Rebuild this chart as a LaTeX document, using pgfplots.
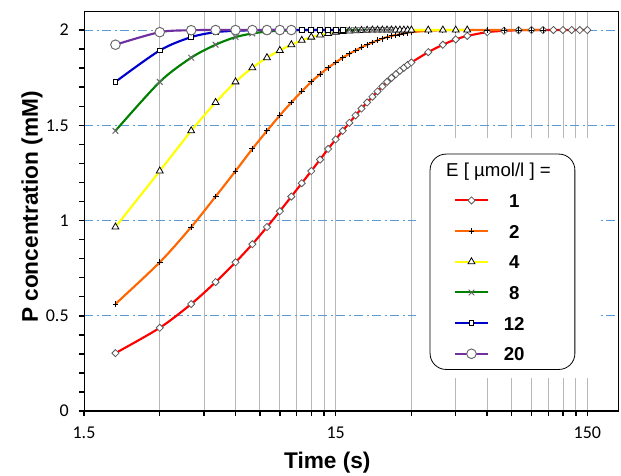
\documentclass[border=0pt]{standalone}
\usepackage{fontspec}
\setmainfont{Liberation Sans}
\newfontfamily\tickfont{Carlito}
\usepackage{pgfplots}
\usepackage{pgfplotstable}
\pgfplotsset{compat=1.18}
\usetikzlibrary{plotmarks}

\definecolor{c1}{RGB}{255,0,0}
\definecolor{c2}{RGB}{255,102,0}
\definecolor{c4}{RGB}{255,255,0}
\definecolor{c8}{RGB}{0,128,0}
\definecolor{c12}{RGB}{0,0,204}
\definecolor{c20}{RGB}{112,48,160}
\definecolor{gridblue}{RGB}{91,155,213}

% P concentration (mM) vs time (s), one table per enzyme concentration
\pgfplotstableread{
t P
2 0.304
3 0.437
4 0.562
5 0.677
6 0.781
7 0.876
8 0.966
9 1.049
10 1.126
11 1.196
12 1.260
13 1.320
14 1.376
15 1.426
16 1.471
17 1.513
18 1.552
19 1.588
20 1.620
21 1.650
22 1.678
23 1.704
24 1.728
25 1.749
26 1.768
27 1.786
28 1.802
29 1.817
30 1.830
35 1.884
40 1.923
45 1.951
50 1.969
60 1.989
70 1.996
80 1.999
90 2.000
100 2.000
110 2.000
120 2.000
130 2.000
140 2.000
150 2.000
}\eone

\pgfplotstableread{
t P
2 0.562
3 0.781
4 0.966
5 1.126
6 1.260
7 1.376
8 1.471
9 1.552
10 1.620
11 1.678
12 1.728
13 1.768
14 1.802
15 1.830
16 1.855
17 1.875
18 1.893
19 1.909
20 1.923
21 1.935
22 1.946
23 1.955
24 1.963
25 1.969
26 1.974
27 1.978
28 1.982
29 1.986
30 1.989
35 1.996
40 1.999
45 2.000
50 2.000
60 2.000
70 2.000
80 2.000
90 2.000
100 2.000
}\etwo

\pgfplotstableread{
t P
2 0.966
3 1.260
4 1.471
5 1.620
6 1.728
7 1.802
8 1.855
9 1.893
10 1.923
11 1.946
12 1.963
13 1.974
14 1.982
15 1.989
16 1.992
17 1.995
18 1.996
19 1.998
20 1.999
21 2.000
22 2.000
23 2.000
24 2.000
25 2.000
26 2.000
27 2.000
28 2.000
29 2.000
30 2.000
35 2.000
40 2.000
45 2.000
50 2.000
}\efour

\pgfplotstableread{
t P
2 1.471
3 1.728
4 1.855
5 1.923
6 1.963
7 1.982
8 1.992
9 1.996
10 1.999
11 2.000
12 2.000
13 2.000
14 2.000
15 2.000
16 2.000
17 2.000
18 2.000
19 2.000
20 2.000
21 2.000
22 2.000
23 2.000
24 2.000
25 2.000
}\eeight

\pgfplotstableread{
t P
2 1.728
3 1.893
4 1.963
5 1.989
6 1.996
7 1.999
8 2.000
9 2.000
10 2.000
11 2.000
12 2.000
13 2.000
14 2.000
15 2.000
16 2.000
}\etwelve

\pgfplotstableread{
t P
2 1.923
3 1.989
4 1.999
5 2.000
6 2.000
7 2.000
8 2.000
9 2.000
10 2.000
}\etwenty

\tikzset{
  cline/.style={smooth, line width=1.6pt},
}
\newcommand\lgd[1]{\makebox[42.5pt][l]{\makebox[33.5pt][c]{\bfseries #1}}}

\begin{document}
\begin{tikzpicture}
\useasboundingbox (-63pt,-48pt) rectangle (402.7pt,308.25pt);
\begin{axis}[
    at={(0,0)}, anchor=south west,
    scale only axis, width=401pt, height=300pt,
    xmode=log, xmin=1.5, xmax=200, ymin=0, ymax=2.1,
    xtick={1.5,15,150}, xticklabels={1.5,15,150},
    minor xtick={3,4.5,6,7.5,9,10.5,12,13.5,30,45,60,75,90,105,120,135},
    ytick={0,0.5,1,1.5,2}, yticklabels={0,0.5,1,1.5,2},
    minor y tick num=4,
    tick pos=left, tick align=outside,
    major tick length=4pt, minor tick length=3.5pt,
    tick style={black, line width=1.1pt},
    /pgf/number format/assume math mode=true,
    tick label style={font=\tickfont\fontsize{13.5}{15}\selectfont},
    xticklabel style={yshift=-4.5pt},
    yticklabel style={xshift=-4pt},
    axis line style={black, line width=0.6pt},
    xmajorgrids, xminorgrids, ymajorgrids,
    major x grid style={black!28, line width=0.6pt},
    minor x grid style={black!28, line width=0.6pt},
    major y grid style={gridblue, line width=0.7pt, dash pattern=on 7pt off 2.5pt on 1.5pt off 2.5pt},
    xlabel={Time (s)},
    xlabel style={font=\bfseries\fontsize{17}{19}\selectfont,
        at={(axis description cs:0.455,0)}, anchor=center, yshift=-39pt},
    legend style={at={(0.918,0.104)}, anchor=south east, draw=black, line width=0.6pt,
        rounded corners=12pt, fill=white, inner xsep=17.75pt, inner ysep=3pt, outer sep=0pt,
        row sep=5.5pt, column sep=0pt, font=\fontsize{14}{16}\selectfont,
        nodes={inner sep=2pt, text height=12pt, text depth=1.5pt}},
    legend cell align=left,
    legend image code/.code={%
        \draw[sharp corners, mark repeat=2, mark phase=2, #1]
            plot coordinates {(0pt,0pt) (12.5pt,0pt) (25pt,0pt)};},
]
\addlegendimage{empty legend}
\addlegendentry{\makebox[42.5pt][l]{\hspace*{-34.25pt}E [ µmol/l ] =}}

\addplot[cline, c1, mark=square*, mark size=1.9pt,
    mark options={solid, rotate=45, draw=black!65, fill=white, line width=0.6pt}] table[x=t, y=P] {\eone};
\addlegendentry{\lgd{1}}

\addplot[cline, c2, mark=+, mark size=2.2pt,
    mark options={solid, draw=black, line width=0.7pt}] table[x=t, y=P] {\etwo};
\addlegendentry{\lgd{2}}

\addplot[cline, c4, mark=triangle*, mark size=3pt,
    mark options={solid, draw=black, fill=white, line width=0.6pt}] table[x=t, y=P] {\efour};
\addlegendentry{\lgd{4}}

\addplot[cline, c8, mark=x, mark size=3pt,
    mark options={solid, draw=black!60, line width=0.7pt}] table[x=t, y=P] {\eeight};
\addlegendentry{\lgd{8}}

\addplot[cline, c12, mark=square*, mark size=1.8pt,
    mark options={solid, draw=black, fill=white, line width=0.6pt}] table[x=t, y=P] {\etwelve};
\addlegendentry{\lgd{12}}

\addplot[cline, c20, mark=*, mark size=3.6pt,
    mark options={solid, draw=black!60, fill=white, line width=0.7pt}] table[x=t, y=P] {\etwenty};
\addlegendentry{\lgd{20}}

% white area round the legend, as in the original
\fill[white] (rel axis cs:0.621,0.0825) rectangle (rel axis cs:0.959,0.6825);
% heavier left and bottom axis lines
\draw[black, line width=1.5pt] (rel axis cs:0,1) -- (rel axis cs:0,0) -- (rel axis cs:1,0);
\end{axis}
\node[rotate=90, anchor=center, font=\bfseries\fontsize{17}{19}\selectfont]
    at (-39pt,153pt) {P concentration (mM)};
\end{tikzpicture}
\end{document}
